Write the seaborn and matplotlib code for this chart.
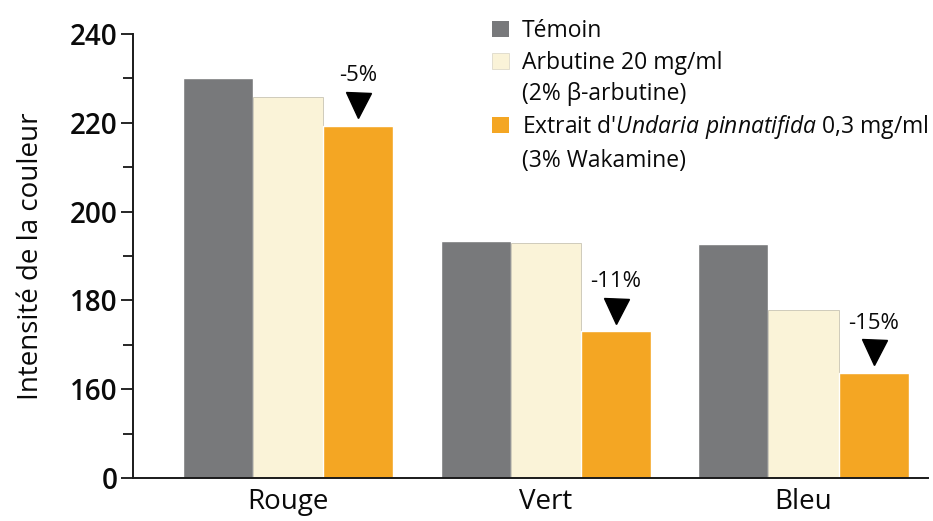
import pandas as pd
import matplotlib.pyplot as plt
import matplotlib.transforms as mtransforms
from matplotlib.patches import Patch
from matplotlib.ticker import FixedLocator
import seaborn as sns

# Data
couleurs = ["Rouge", "Vert", "Bleu"]
temoin = [230.0, 193.3, 192.8]
arbutine = [225.8, 193.0, 177.8]
wakamine = [219.3, 173.0, 163.6]
variations = ["-5%", "-11%", "-15%"]

groupes = ["Témoin", "Arbutine", "Wakamine"]
palette = ["#78797b", "#faf3d8", "#f4a623"]

df = pd.DataFrame({
    "couleur": couleurs * 3,
    "groupe": [g for g in groupes for _ in couleurs],
    "intensite": temoin + arbutine + wakamine,
})

sns.set_style("white")
plt.rcParams["font.family"] = ["Open Sans", "DejaVu Sans"]
plt.rcParams["mathtext.fontset"] = "custom"
plt.rcParams["mathtext.rm"] = "Open Sans"
plt.rcParams["mathtext.it"] = "Open Sans:italic"

fig = plt.figure(figsize=(9.33, 5.21), dpi=100)
ax = fig.add_axes([133 / 933, 1 - 478 / 521, 795 / 933, 444 / 521])

sns.barplot(data=df, x="couleur", y="intensite", hue="groupe", hue_order=groupes,
            palette=palette, width=0.815, saturation=1, legend=False, ax=ax)

# light edge on the beige bars
for bar in ax.containers[1]:
    bar.set_edgecolor("#c8c4b4")
    bar.set_linewidth(0.6)

ax.set_ylim(140, 240)
ax.set_xlim(-0.601, 2.483)

# broken axis: bottom tick shown as 0
ax.yaxis.set_major_locator(FixedLocator([140, 160, 180, 200, 220, 240]))
ax.set_yticklabels(["0", "160", "180", "200", "220", "240"])
ax.yaxis.set_minor_locator(FixedLocator([150, 170, 190, 210, 230]))
ax.tick_params(axis="y", which="major", direction="out", length=9, width=1.4,
               labelsize=20, pad=2, left=True, labelcolor="#0a0a0a")
ax.tick_params(axis="y", which="minor", direction="out", length=7, width=1.4, left=True)
for lab in ax.get_yticklabels():
    lab.set_fontweight("semibold")
ax.tick_params(axis="x", length=0, labelsize=20, pad=7, labelcolor="#0a0a0a")
for lab in ax.get_xticklabels():
    lab.set_fontweight("medium")

for side in ["top", "right"]:
    ax.spines[side].set_visible(False)
for side in ["left", "bottom"]:
    ax.spines[side].set_linewidth(1.4)
    ax.spines[side].set_color("#1a1a1a")

ax.set_xlabel("")
ax.set_ylabel("Intensité de la couleur", fontsize=20, labelpad=18, color="#0a0a0a")

# down arrows and percentages above the Wakamine bars
tri = mtransforms.offset_copy(ax.transData, fig=fig, y=15, units="points")
for bar, txt in zip(ax.containers[2], variations):
    xc = bar.get_x() + bar.get_width() / 2
    yt = bar.get_height()
    ax.plot(xc, yt, marker="v", color="black", markersize=18, transform=tri, clip_on=False)
    ax.annotate(txt, (xc, yt), xytext=(0, 36), textcoords="offset points",
                ha="center", va="center", fontsize=16, color="#0a0a0a")

# legend with continuation lines aligned under the first line
handles = [
    Patch(facecolor=palette[0], edgecolor="none"),
    Patch(facecolor=palette[1], edgecolor="#d8d4c4", linewidth=0.5),
    Patch(facecolor="none", edgecolor="none"),
    Patch(facecolor=palette[2], edgecolor="none"),
    Patch(facecolor="none", edgecolor="none"),
]
labels = [
    "Témoin",
    "Arbutine 20 mg/ml",
    "(2% β-arbutine)",
    "Extrait d'$\\mathit{Undaria\\ pinnatifida}$ 0,3 mg/ml",
    "(3% Wakamine)",
]
leg = fig.legend(handles, labels, loc="upper left", bbox_to_anchor=(481 / 933, 1 - 8 / 521),
                 frameon=False, fontsize=16.5, handlelength=0.7, handleheight=0.7,
                 handletextpad=0.6, labelspacing=0.32, borderpad=0)
for t in leg.get_texts():
    t.set_fontweight("medium")
    t.set_color("#0a0a0a")

fig.savefig("out.png", dpi=100)
